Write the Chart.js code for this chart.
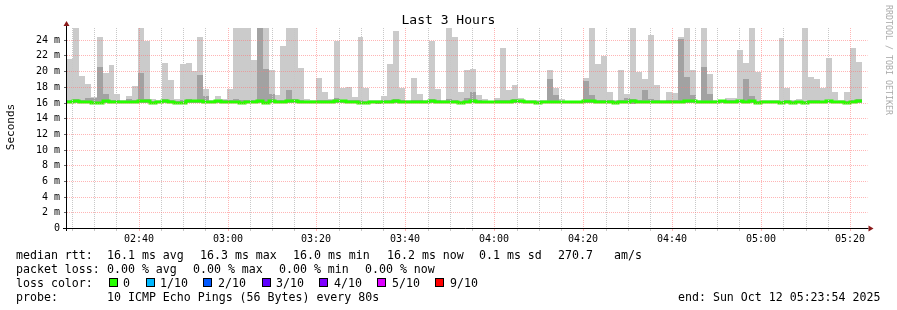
<!DOCTYPE html>
<html>
<head>
<meta charset="utf-8">
<title>Last 3 Hours</title>
<script src="https://cdn.jsdelivr.net/npm/chart.js@4.4.1/dist/chart.umd.min.js"></script>
<style>
  html, body { margin: 0; padding: 0; background: #fff; }
  #wrap { position: relative; width: 897px; height: 310px; font-family: "DejaVu Sans Mono", monospace; color: #000; overflow: hidden; }
  #wrap canvas { position: absolute; left: 0; top: 0; }
  .t { position: absolute; white-space: pre; font-size: 11.6px; line-height: 14px; }
  .box { position: absolute; width: 7px; height: 7px; border: 1px solid #000; }
  #title { position: absolute; left: 0; top: 11.5px; width: 897px; text-align: center; font-size: 13px; line-height: 16px; }
  #ylabel { position: absolute; left: -29px; top: 119.5px; width: 80px; text-align: center; font-size: 11px; line-height: 14px; transform: rotate(-90deg); }
  #mark { position: absolute; left: 893px; top: 5px; font-size: 8.3px; line-height: 9px; color: #aaa; white-space: pre; transform: rotate(90deg); transform-origin: 0 0; }
</style>
</head>
<body>
<div id="wrap">
  <canvas id="chart" width="897" height="310"></canvas>
  <div id="title">Last 3 Hours</div>
  <div id="ylabel">Seconds</div>
  <div id="mark">RRDTOOL / TOBI OETIKER</div>

  <span class="t" style="left:16px;top:247.5px">median rtt:</span>
  <span class="t" style="left:107px;top:247.5px">16.1 ms avg</span>
  <span class="t" style="left:200px;top:247.5px">16.3 ms max</span>
  <span class="t" style="left:293px;top:247.5px">16.0 ms min</span>
  <span class="t" style="left:387px;top:247.5px">16.2 ms now</span>
  <span class="t" style="left:479px;top:247.5px">0.1 ms sd</span>
  <span class="t" style="left:558px;top:247.5px">270.7</span>
  <span class="t" style="left:614px;top:247.5px">am/s</span>

  <span class="t" style="left:16px;top:261.5px">packet loss:</span>
  <span class="t" style="left:107px;top:261.5px">0.00 % avg</span>
  <span class="t" style="left:193px;top:261.5px">0.00 % max</span>
  <span class="t" style="left:279px;top:261.5px">0.00 % min</span>
  <span class="t" style="left:365px;top:261.5px">0.00 % now</span>

  <span class="t" style="left:16px;top:275.5px">loss color:</span>
  <div id="losskey"></div>

  <span class="t" style="left:16px;top:289.5px">probe:</span>
  <span class="t" style="left:107px;top:289.5px">10 ICMP Echo Pings (56 Bytes) every 80s</span>
  <span class="t" style="left:678px;top:289.5px">end: Sun Oct 12 05:23:54 2025</span>
</div>

<script>
// window: 3 hours ending Sun Oct 12 05:23:54 2025, one value per 80 s probe
const startTime = '02:23:54';
const stepSeconds = 80;
const windowSeconds = 3 * 3600;

// tick labels on the time axis
const timeLabels = ['02:40', '03:00', '03:20', '03:40', '04:00', '04:20', '04:40', '05:00', '05:20'];

// loss colour key
const lossLabels = ['0', '1/10', '2/10', '3/10', '4/10', '5/10', '9/10'];
const lossColors = ['#26ff00', '#00b8ff', '#0059ff', '#5e00ff', '#7e00ff', '#dd00ff', '#ff0000'];

// median rtt (ms) per step
const medianRtt = [
  16.1, 16.25, 16.1, 16.1, 16.0, 16.0, 16.25, 16.1, 16.1, 16.1,
  16.1, 16.1, 16.25, 16.25, 16.0, 16.1, 16.2, 16.1, 16.0, 16.0,
  16.2, 16.2, 16.2, 16.1, 16.1, 16.15, 16.1, 16.1, 16.1, 15.95,
  16.1, 16.1, 16.2, 16.0, 16.2, 16.1, 16.1, 16.25, 16.25, 16.1,
  16.1, 16.1, 16.1, 16.1, 16.1, 16.2, 16.2, 16.1, 16.1, 16.0,
  16.0, 16.1, 16.1, 16.1, 16.1, 16.2, 16.1, 16.1, 16.1, 16.1,
  16.1, 16.2, 16.1, 16.1, 16.1, 16.1, 15.95, 16.1, 16.2, 16.1,
  16.1, 16.1, 16.1, 16.1, 16.1, 16.2, 16.2, 16.1, 16.1, 16.0,
  16.1, 16.1, 16.1, 16.1, 16.1, 16.1, 16.1, 16.2, 16.2, 16.1,
  16.1, 16.1, 15.95, 16.1, 16.1, 16.2, 16.1, 16.1, 16.1, 16.1,
  16.1, 16.1, 16.1, 16.1, 16.2, 16.2, 16.1, 16.1, 16.1, 16.1,
  16.2, 16.1, 16.1, 16.2, 16.1, 16.2, 16.0, 16.1, 16.1, 16.1,
  16.0, 16.1, 16.0, 16.1, 16.0, 16.1, 16.1, 16.1, 16.2, 16.1,
  16.1, 16.0, 16.1, 16.2
];

// smoke: lowest ping, upper band of the middle pings, highest ping (ms)
const smokeMin = [
  15.95, 15.95, 15.95, 15.95, 15.8, 15.85, 15.95, 15.95, 15.95, 15.95,
  15.95, 15.95, 15.95, 15.95, 15.85, 15.95, 15.95, 15.95, 15.85, 15.85,
  15.95, 15.95, 15.95, 15.95, 15.95, 15.95, 15.95, 15.95, 15.95, 15.8,
  15.95, 15.95, 15.95, 15.85, 15.95, 15.95, 15.95, 15.95, 15.95, 15.95,
  15.95, 15.95, 15.95, 15.95, 15.95, 15.95, 15.95, 15.95, 15.95, 15.85,
  15.8, 15.95, 15.85, 15.95, 15.95, 15.95, 15.95, 15.95, 15.95, 15.95,
  15.95, 15.95, 15.95, 15.95, 15.95, 15.95, 15.85, 15.95, 15.95, 15.95,
  15.95, 15.95, 15.95, 15.95, 15.95, 15.95, 15.95, 15.95, 15.95, 15.85,
  15.95, 15.95, 15.95, 15.95, 15.95, 15.95, 15.95, 15.95, 15.95, 15.95,
  15.95, 15.95, 15.8, 15.95, 15.95, 15.85, 15.95, 15.95, 15.95, 15.95,
  15.95, 15.95, 15.95, 15.95, 15.95, 15.95, 15.95, 15.95, 15.95, 15.95,
  15.95, 15.95, 15.95, 15.95, 15.95, 15.95, 15.85, 15.95, 15.95, 15.95,
  15.85, 15.95, 15.85, 15.95, 15.85, 15.95, 15.95, 15.95, 15.95, 15.95,
  15.95, 15.85, 15.95, 15.95
];

const smokeMid = [
  16.3, 16.4, 16.3, 16.6, 16.6, 20.5, 17.1, 16.3, 16.3, 16.2,
  16.4, 16.3, 19.7, 16.4, 16.2, 16.2, 16.4, 16.3, 16.2, 16.3,
  16.4, 16.3, 19.5, 16.8, 16.2, 16.3, 16.3, 16.3, 16.4, 16.3,
  16.3, 16.3, 25.5, 20.3, 17.1, 16.3, 16.3, 17.6, 16.4, 16.3,
  16.2, 16.2, 16.3, 16.3, 16.3, 16.6, 16.3, 16.3, 16.3, 16.3,
  16.2, 16.2, 16.2, 16.3, 16.3, 16.4, 16.3, 16.2, 16.3, 16.3,
  16.2, 16.4, 16.3, 16.2, 16.4, 16.3, 16.2, 16.6, 17.4, 16.3,
  16.2, 16.2, 16.3, 16.3, 16.3, 16.4, 16.3, 16.2, 16.2, 16.2,
  16.2, 19.0, 17.0, 16.2, 16.2, 16.2, 16.2, 18.7, 17.0, 16.3,
  16.3, 16.3, 16.2, 16.3, 16.6, 16.5, 16.3, 17.6, 16.4, 16.3,
  16.2, 16.3, 16.3, 24.1, 19.2, 17.0, 16.2, 20.5, 17.1, 16.2,
  16.3, 16.3, 16.3, 16.3, 19.0, 16.8, 16.2, 16.2, 16.2, 16.2,
  16.2, 16.3, 16.2, 16.2, 16.2, 16.3, 16.3, 16.2, 16.3, 16.2,
  16.2, 16.2, 16.3, 16.4
];

const smokeMax = [
  21.5, 25.5, 19.4, 18.3, 16.7, 24.3, 19.7, 20.8, 17.1, 16.3,
  16.8, 18.1, 25.5, 23.8, 16.4, 16.3, 21.0, 18.9, 16.5, 20.9,
  21.0, 20.0, 24.3, 17.7, 16.3, 16.8, 16.4, 17.7, 25.5, 25.5,
  25.5, 21.4, 25.5, 25.5, 20.1, 16.9, 23.2, 25.5, 25.5, 20.4,
  16.5, 16.3, 19.1, 17.4, 16.4, 23.8, 17.9, 18.0, 16.7, 24.4,
  17.9, 16.3, 16.3, 16.8, 20.9, 25.1, 17.9, 16.3, 19.1, 17.1,
  16.3, 23.9, 17.7, 16.3, 25.5, 24.3, 17.3, 20.2, 20.3, 16.9,
  16.4, 16.2, 16.6, 23.0, 17.6, 18.2, 16.6, 16.3, 16.3, 16.3,
  16.3, 20.2, 17.9, 16.4, 16.2, 16.2, 16.2, 19.1, 25.5, 20.9,
  21.9, 17.3, 16.3, 20.2, 17.1, 25.5, 19.9, 19.0, 24.6, 18.2,
  16.3, 17.4, 17.2, 24.3, 25.5, 20.1, 16.3, 25.5, 19.6, 16.3,
  16.3, 16.6, 16.6, 22.7, 21.0, 25.5, 19.9, 16.3, 16.3, 16.3,
  24.2, 17.8, 16.3, 16.5, 25.5, 19.2, 19.0, 17.8, 21.7, 17.3,
  16.3, 17.3, 23.0, 21.2
];

const yMaxMs = 25.5;

function hms(s) {
  const p = s.split(':').map(Number);
  return p[0] * 3600 + p[1] * 60 + (p[2] || 0);
}

const t0 = hms(startTime);
const majorTicks = timeLabels.map(hms);

// stepped series: one point per step start plus a closing point
function steps(values) {
  const pts = values.map((v, i) => ({ x: t0 + i * stepSeconds, y: v }));
  pts.push({ x: t0 + values.length * stepSeconds, y: values[values.length - 1] });
  return pts;
}

// loss colour key
const lossBoxX = [109, 146, 203, 262, 319, 377, 435];
const lossTextX = [123, 160, 218, 276, 334, 392, 450];
const key = document.getElementById('losskey');
lossLabels.forEach((label, i) => {
  const b = document.createElement('span');
  b.className = 'box';
  b.style.left = lossBoxX[i] + 'px';
  b.style.top = '278px';
  b.style.background = lossColors[i];
  key.appendChild(b);
  const t = document.createElement('span');
  t.className = 't';
  t.style.left = lossTextX[i] + 'px';
  t.style.top = '275.5px';
  t.textContent = label;
  key.appendChild(t);
});

const GRID = '#c8c8c8';
const MGRID = 'rgba(255,120,120,0.55)';

// axis lines with arrow heads, drawn on top like rrdtool does
const axisArrows = {
  id: 'axisArrows',
  afterDraw(chart) {
    const { ctx, chartArea: a } = chart;
    const x = Math.round(a.left) - 0.5;
    const y = Math.round(a.bottom) + 0.5;
    ctx.save();
    ctx.strokeStyle = '#000';
    ctx.lineWidth = 1;
    ctx.beginPath();
    ctx.moveTo(a.left - 4, y);
    ctx.lineTo(a.right + 1, y);
    ctx.moveTo(x, a.bottom + 3);
    ctx.lineTo(x, a.top - 3);
    ctx.stroke();
    ctx.fillStyle = '#8b1a1a';
    ctx.beginPath();
    ctx.moveTo(x - 3, a.top - 2);
    ctx.lineTo(x + 3, a.top - 2);
    ctx.lineTo(x, a.top - 7);
    ctx.closePath();
    ctx.fill();
    ctx.beginPath();
    ctx.moveTo(a.right + 1, y - 3);
    ctx.lineTo(a.right + 1, y + 3);
    ctx.lineTo(a.right + 6, y);
    ctx.closePath();
    ctx.fill();
    ctx.restore();
  }
};

Chart.defaults.font.family = '"DejaVu Sans Mono", monospace';
Chart.defaults.font.size = 10;
Chart.defaults.color = '#000';

// 'before' keeps each value flat across its own 80 s step
const lineBase = { pointRadius: 0, stepped: 'before', borderWidth: 0, borderColor: 'rgba(0,0,0,0)' };

new Chart(document.getElementById('chart'), {
  type: 'line',
  data: {
    datasets: [
      { ...lineBase, label: 'median', data: steps(medianRtt), borderColor: lossColors[0], borderWidth: 3, fill: false },
      { ...lineBase, label: 'mid', data: steps(smokeMid), backgroundColor: '#a2a2a2', fill: 3 },
      { ...lineBase, label: 'max', data: steps(smokeMax), backgroundColor: '#cbcbcb', fill: 3 },
      { ...lineBase, label: 'min', data: steps(smokeMin), fill: false }
    ]
  },
  options: {
    responsive: false,
    animation: false,
    layout: { padding: { left: 0, top: 28, right: 29.5, bottom: 0 } },
    plugins: { legend: { display: false }, tooltip: { enabled: false }, title: { display: false } },
    scales: {
      x: {
        type: 'linear',
        min: t0,
        max: t0 + windowSeconds,
        alignToPixels: true,
        afterFit(scale) { scale.height = 82; },
        afterBuildTicks(scale) {
          const ticks = [];
          for (let v = Math.ceil(t0 / 300) * 300; v <= t0 + windowSeconds; v += 300) ticks.push({ value: v });
          scale.ticks = ticks;
        },
        ticks: {
          autoSkip: false,
          maxRotation: 0,
          padding: 2,
          callback(v) {
            const i = majorTicks.indexOf(v);
            return i >= 0 ? timeLabels[i] : '';
          }
        },
        grid: {
          z: 1,
          lineWidth: 1,
          tickLength: 3,
          color: c => majorTicks.includes(c.tick.value) ? MGRID : GRID,
          tickColor: c => majorTicks.includes(c.tick.value) ? MGRID : GRID
        },
        border: { display: false, dash: [1, 1] }
      },
      y: {
        min: 0,
        max: yMaxMs,
        alignToPixels: true,
        afterFit(scale) { scale.width = 67; },
        afterBuildTicks(scale) {
          const ticks = [];
          for (let v = 0; v <= yMaxMs; v += 1) ticks.push({ value: v });
          scale.ticks = ticks;
        },
        ticks: {
          padding: 4,
          callback(v) {
            if (v % 2 !== 0) return '';
            return v === 0 ? '0' : v + ' m';
          }
        },
        grid: {
          z: 1,
          lineWidth: 1,
          tickLength: 3,
          color: c => c.tick.value % 2 === 0 ? MGRID : GRID,
          tickColor: c => c.tick.value % 2 === 0 ? '#666' : 'rgba(0,0,0,0)'
        },
        border: { display: false, dash: [1, 1] }
      }
    }
  },
  plugins: [axisArrows]
});
</script>
</body>
</html>
